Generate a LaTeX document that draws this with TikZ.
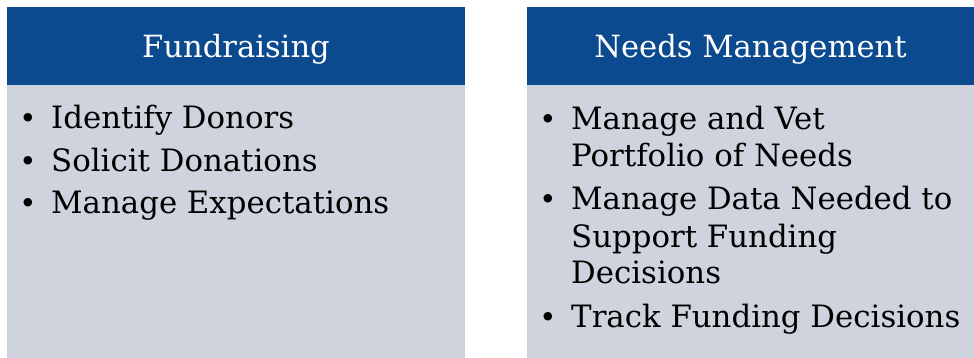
\documentclass[tikz,border=0pt]{standalone}
\usepackage{fontspec}
\setmainfont{DejaVu Serif}
\definecolor{headblue}{HTML}{0B4A8F}
\definecolor{bodygray}{HTML}{CFD3DD}

\begin{document}
\begin{tikzpicture}[
    x=1pt, y=-1pt,
    headbox/.style={fill=headblue, text=white, inner sep=0pt,
      minimum height=78pt, text height=23pt, text depth=0pt,
      font=\fontsize{30.6}{36}\selectfont},
    bodybox/.style={fill=bodygray, inner sep=0pt, anchor=north west},
    itemline/.style={anchor=base west, inner sep=0pt,
      font=\fontsize{30.8}{36}\selectfont},
    itemdot/.style={anchor=base, inner sep=0pt,
      font=\fontsize{29}{36}\selectfont}]

    \useasboundingbox (0,0) rectangle (974,358);

    % left panel
    \node[headbox, minimum width=458pt] (fundhead) at (236,46) {Fundraising};
    \node[bodybox, minimum width=458pt, minimum height=273pt] (fundbody) at (7,85) {};

    \node[itemdot] (fdot1) at (28,129) {\textbullet};
    \node[itemline] (fitem1) at (51,129) {Identify Donors};
    \node[itemdot] (fdot2) at (28,172) {\textbullet};
    \node[itemline] (fitem2) at (51,172) {Solicit Donations};
    \node[itemdot] (fdot3) at (28,214) {\textbullet};
    \node[itemline] (fitem3) at (51,214) {Manage Expectations};

    % right panel
    \node[headbox, minimum width=447pt] (needhead) at (750.5,46) {Needs Management};
    \node[bodybox, minimum width=447pt, minimum height=273pt] (needbody) at (527,85) {};

    \node[itemdot] (ndot1) at (548,130) {\textbullet};
    \node[itemline] (nitem1a) at (571,130) {Manage and Vet};
    \node[itemline] (nitem1b) at (571,167) {Portfolio of Needs};
    \node[itemdot] (ndot2) at (548,210) {\textbullet};
    \node[itemline] (nitem2a) at (571,210) {Manage Data Needed to};
    \node[itemline] (nitem2b) at (571,247) {Support Funding};
    \node[itemline] (nitem2c) at (571,283) {Decisions};
    \node[itemdot] (ndot3) at (548,327) {\textbullet};
    \node[itemline] (nitem3) at (571,327) {Track Funding Decisions};

\end{tikzpicture}
\end{document}
